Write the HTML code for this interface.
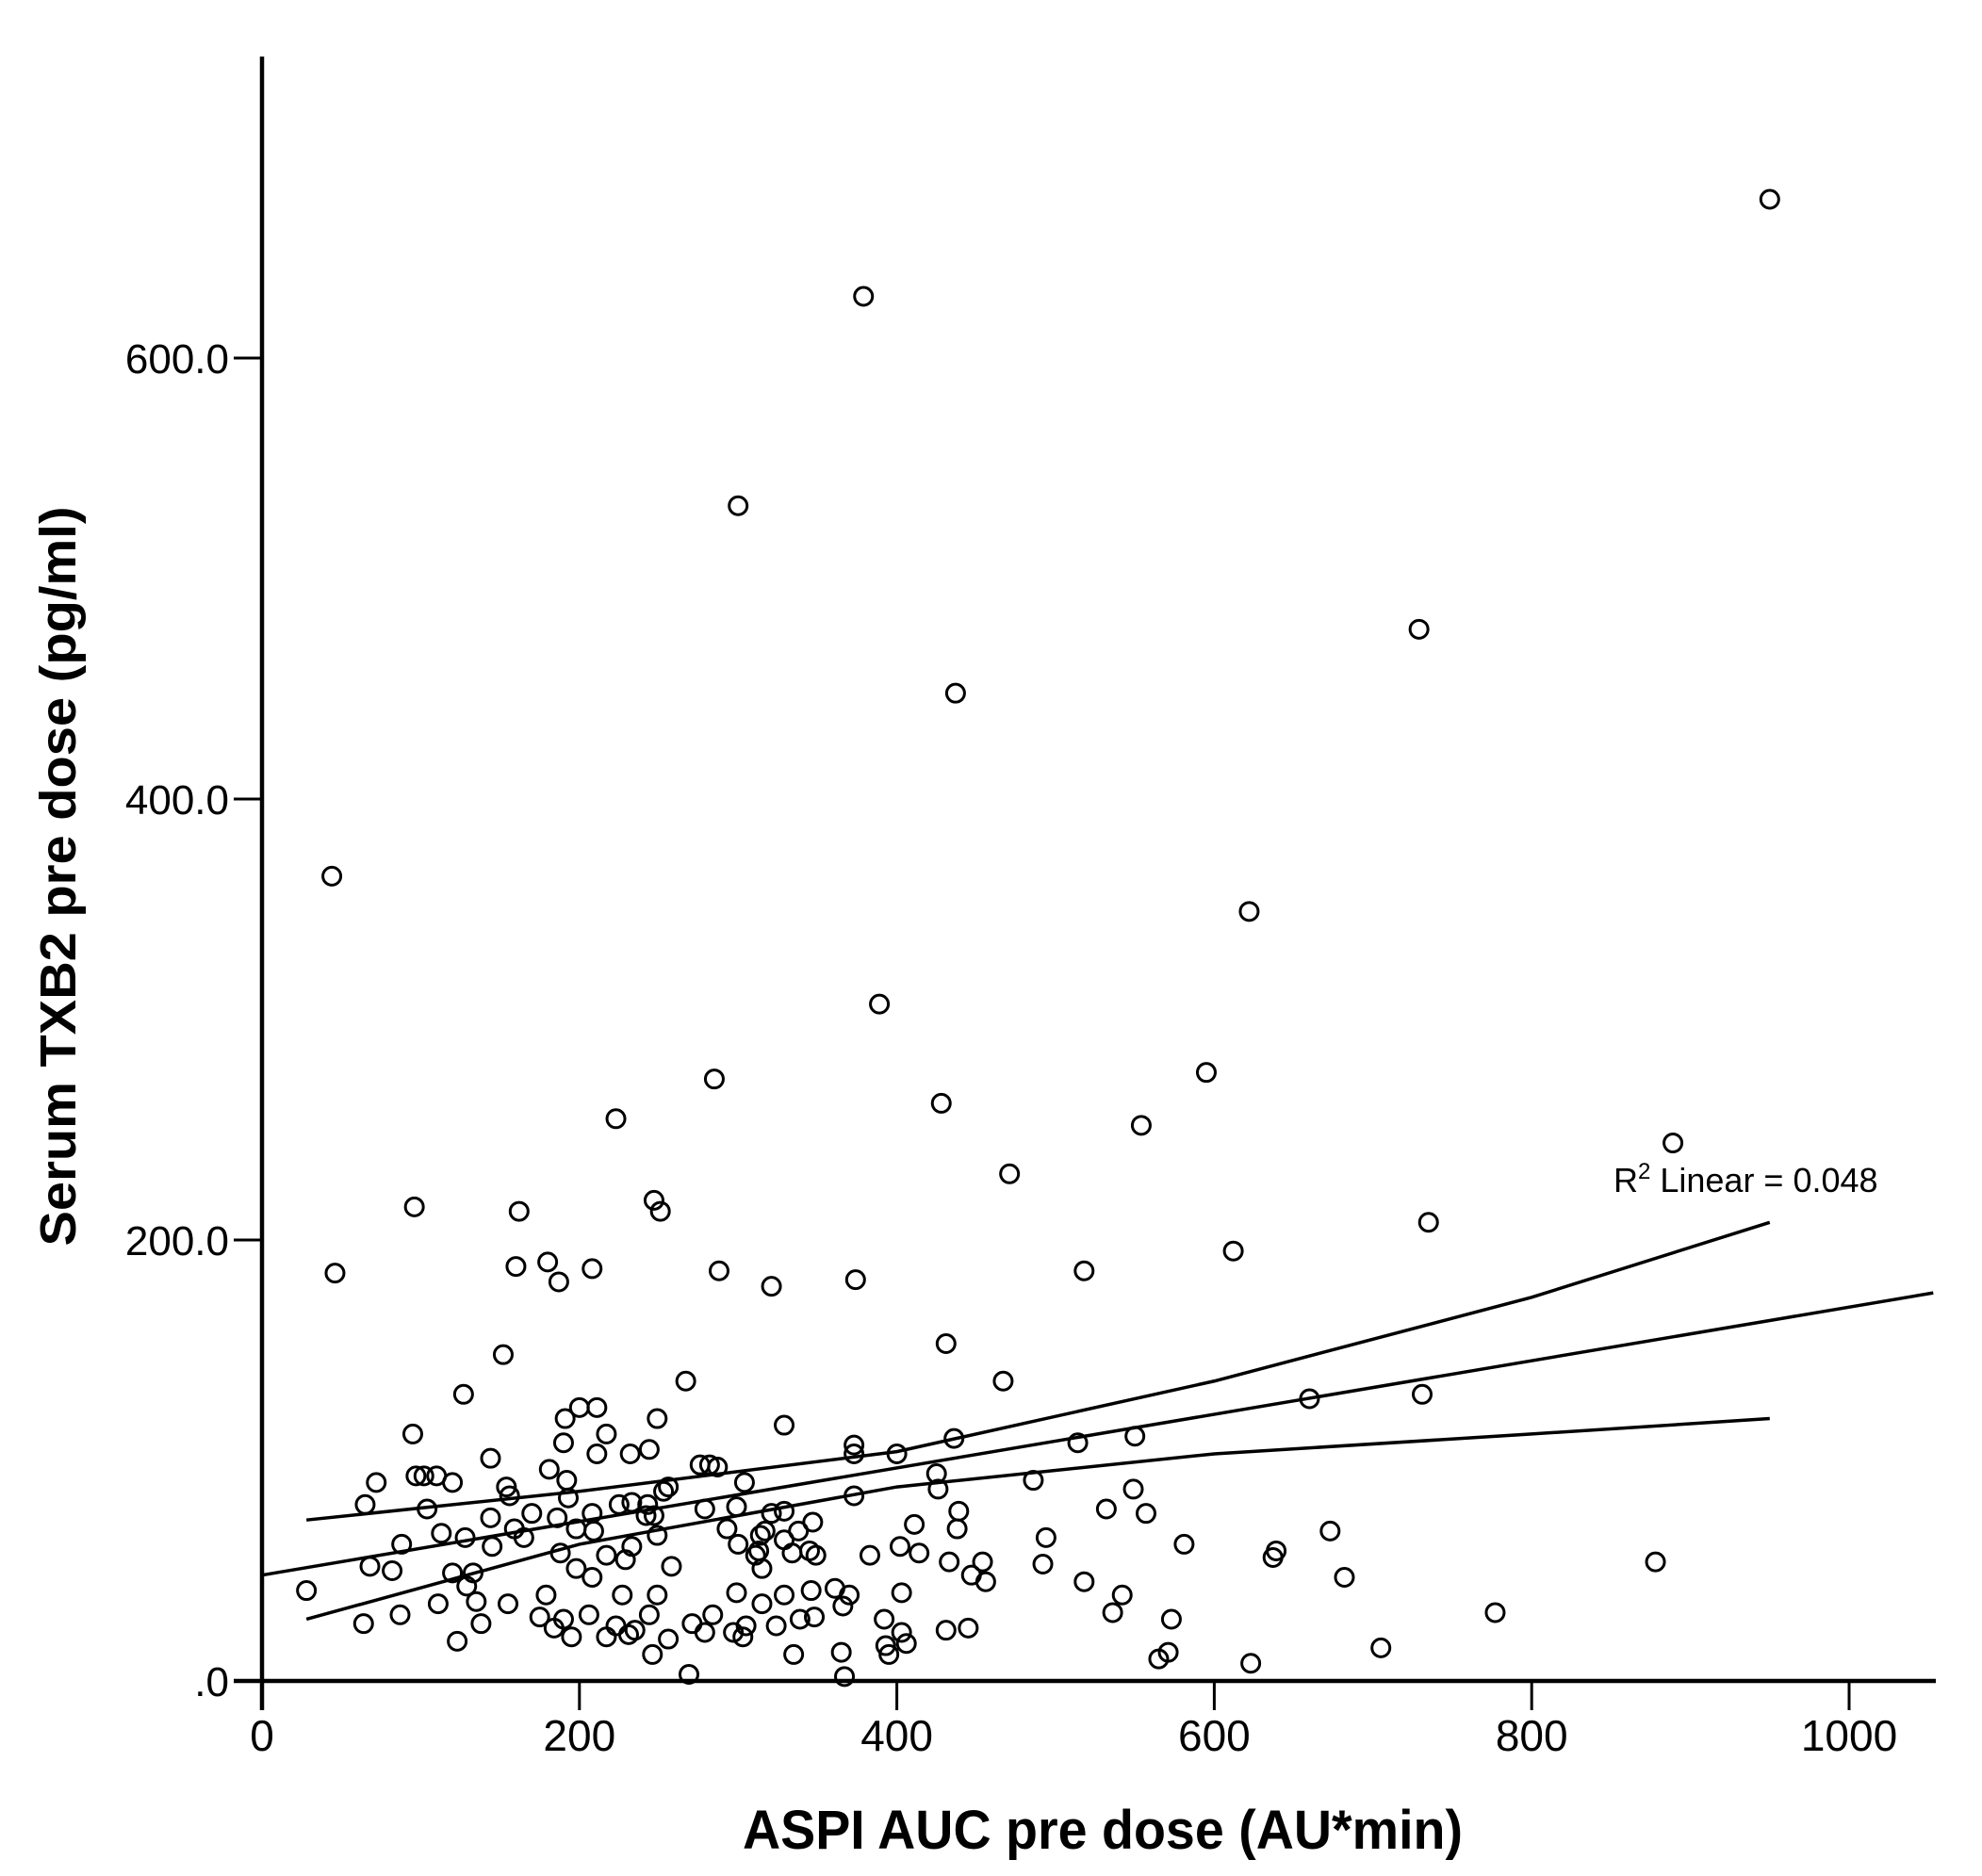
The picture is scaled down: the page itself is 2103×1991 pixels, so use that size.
<!DOCTYPE html>
<html><head><meta charset="utf-8"><style>
html,body{margin:0;padding:0;background:#fff}
svg{display:block}
text{font-family:"Liberation Sans",sans-serif;fill:#000}
</style></head><body>
<svg id="chart" width="2103" height="1991" viewBox="0 0 2103 1991" xmlns="http://www.w3.org/2000/svg"></svg>
<script>
const xTicks=[0,200,400,600,800,1000];
const yTicks=[0,200,400,600];
const yTickLabels=[".0","200.0","400.0","600.0"];
const xVals=[950,379,300,729,437,44,622,389,285,595,428,223,554,889,471,96,247,162,251,735,612,46,180,160,208,288,518,187,321,374,431,152,267,467,127,660,731,329,200,211,191,95,217,249,190,211,232,244,144,373,373,400,436,514,550,181,72,97,102,110,120,276,282,287,192,304,425,426,154,156,256,486,549,65,104,193,233,243,242,279,299,373,439,532,557,170,208,321,329,347,411,144,159,113,128,165,209,249,314,317,293,438,673,494,88,145,188,217,233,300,334,345,349,402,414,581,639,637,68,82,120,133,198,229,258,311,315,383,433,454,447,456,682,878,492,129,135,111,28,155,179,208,227,249,299,315,329,346,361,370,403,518,542,536,573,777,64,87,138,175,184,190,206,223,231,244,271,284,297,305,324,339,348,366,392,403,431,445,123,195,217,235,256,279,303,335,365,395,393,406,565,571,623,705,246,269,367,186,198,225,253,247,329,338,313];
const yVals=[672,628,533,477,448,365,349,307,273,276,262,255,252,244,230,215,218,213,213,208,195,185,190,188,187,186,186,181,179,182,153,148,136,136,130,128,130,116,124,124,119,112,112,119,108,103,103,105,101,107,103,103,110,108,111,96,90,93,93,93,90,98,98,97,91,90,94,87,88,84,88,91,87,80,78,83,81,80,75,78,79,84,77,78,76,76,76,76,77,72,71,74,69,67,65,65,68,66,66,68,69,69,68,65,62,61,58,57,61,62,58,59,57,61,58,62,59,56,52,50,49,49,51,55,52,57,51,57,54,54,48,45,47,54,53,43,36,35,41,35,39,47,39,39,40,35,39,41,42,39,40,45,39,31,28,31,26,30,26,29,24,28,30,25,21,30,26,30,22,25,25,28,29,34,28,22,23,24,18,20,20,23,19,22,20,12,13,12,16,17,10,13,8,15,12,3,2,74,69,80,86,75,64,68,59];
const fitX=[0,1053];
const fitY=[48,176];
const ciX=[28,200,400,600,800,950];
const ciUpper=[73,86,104,136,174,208];
const ciLower=[28,62,88,103,112,119];

const X0=278,XS=1.684,Y0=1784,YS=2.34;
const sx=v=>X0+v*XS, sy=v=>Y0-v*YS;
const svg=document.getElementById('chart');
const NS='http://www.w3.org/2000/svg';
function mk(t,a){const e=document.createElementNS(NS,t);for(const k in a)e.setAttribute(k,a[k]);svg.appendChild(e);return e;}

xVals.forEach((x,i)=>{
  const c=mk('circle',{cx:sx(x),cy:sy(yVals[i]),r:9.5,fill:'none',stroke:'#000','stroke-width':3});
  
  
});
const fl=mk('line',{x1:sx(fitX[0]),y1:sy(fitY[0]),x2:sx(fitX[1]),y2:sy(fitY[1]),stroke:'#000','stroke-width':3.5});


const up=mk('polyline',{points:ciX.map((x,i)=>sx(x)+','+sy(ciUpper[i])).join(' '),fill:'none',stroke:'#000','stroke-width':3.5});


const lo=mk('polyline',{points:ciX.map((x,i)=>sx(x)+','+sy(ciLower[i])).join(' '),fill:'none',stroke:'#000','stroke-width':3.5});



const ya=mk('line',{x1:X0,y1:60,x2:X0,y2:1815,stroke:'#000','stroke-width':4.5});


const xa=mk('line',{x1:248,y1:Y0,x2:2054,y2:Y0,stroke:'#000','stroke-width':4.5});


xTicks.forEach(v=>{
  const t=mk('line',{x1:sx(v),y1:Y0,x2:sx(v),y2:1815,stroke:'#000','stroke-width':3});
  
  
  const l=mk('text',{x:sx(v),y:1858,'font-size':46,'text-anchor':'middle'});
  l.textContent=v;
  
  
});
yTicks.forEach((v,i)=>{
  const t=mk('line',{x1:248,y1:sy(v),x2:X0,y2:sy(v),stroke:'#000','stroke-width':3});
  
  
  const l=mk('text',{x:243,y:sy(v)+16,'font-size':44,'text-anchor':'end'});
  l.textContent=yTickLabels[i];
  
  
});
</script>
<svg style="position:absolute;left:0;top:0" width="2103" height="1991" xmlns="http://www.w3.org/2000/svg">
<text x="1170" y="1962" font-size="58" font-weight="bold" text-anchor="middle" textLength="764" lengthAdjust="spacingAndGlyphs">ASPI AUC pre dose (AU*min)</text>
<text transform="translate(80,930) rotate(-90)" x="0" y="0" font-size="54" font-weight="bold" text-anchor="middle" textLength="785" lengthAdjust="spacingAndGlyphs">Serum TXB2 pre dose (pg/ml)</text>
<text x="1712" y="1265" font-size="36">R<tspan dy="-14" font-size="24">2</tspan><tspan dy="14"> Linear = 0.048</tspan></text>
</svg>
</body></html>
